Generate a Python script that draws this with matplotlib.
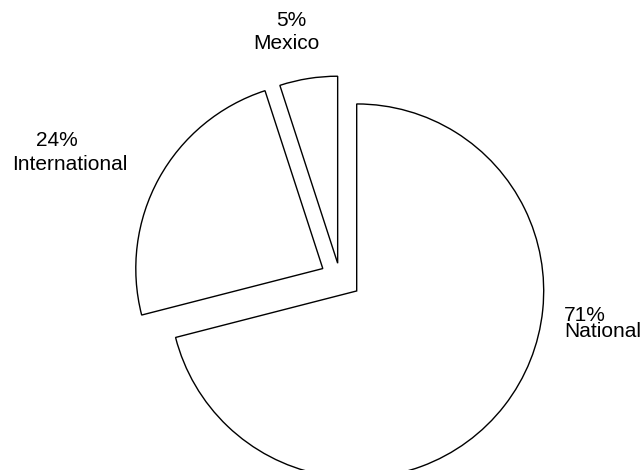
import matplotlib
matplotlib.use('Agg')
import matplotlib.pyplot as plt

plt.rcParams['font.family'] = ['Liberation Sans', 'DejaVu Sans']

# data
categories = ['National', 'International', 'Mexico']
shares = [71, 24, 5]
explode = [0.113, 0.105, 0.08]

W, H = 643, 470
# pie centre and radius in pixels (measured from the top-left)
CX, CY, R = 340, 278, 187


def px(x, y):
    return x / W, 1 - y / H


fig = plt.figure(figsize=(W / 100, H / 100), dpi=100)
ax = fig.add_axes([0, 0, 1, 1])
ax.pie(shares, explode=explode, startangle=90, counterclock=False,
       wedgeprops=dict(facecolor='white', edgecolor='black', linewidth=1.0))
ax.set_xlim(-CX / R, (W - CX) / R)
ax.set_ylim(-(H - CY) / R, CY / R)
ax.set_aspect('auto')
ax.axis('off')

# National: one left-aligned two-line label, tight line spacing
fig.text(*px(564, 337), f'{shares[0]}%\n{categories[0]}', ha='left',
         va='baseline', fontsize=15, linespacing=0.83)

# the other two labels: lines sit on slightly different centres
label_pos = {
    'International': [(57, 146), (70, 170)],
    'Mexico': [(291, 26), (286, 49)],
}
for name, pct in zip(categories[1:], shares[1:]):
    (x1, y1), (x2, y2) = label_pos[name]
    fig.text(*px(x1, y1), f'{pct}%', ha='center', va='baseline', fontsize=15)
    fig.text(*px(x2, y2), name, ha='center', va='baseline', fontsize=15)

fig.savefig('out.png', dpi=100)
plt.close(fig)
